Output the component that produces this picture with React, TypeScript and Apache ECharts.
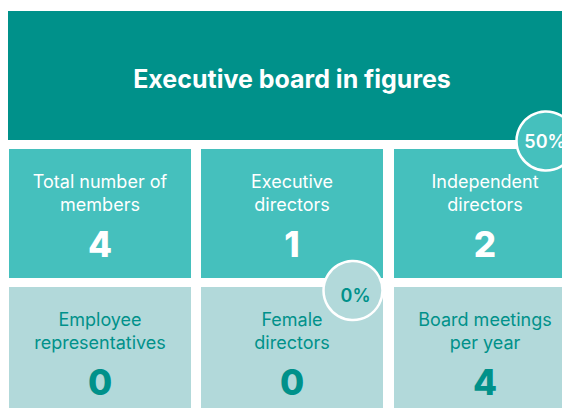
import React, { useEffect, useRef } from "react";
import * as echarts from "echarts";

const TITLE = "Executive board in figures";
const tileLabels = [
  "Total number of\nmembers",
  "Executive\ndirectors",
  "Independent\ndirectors",
  "Employee\nrepresentatives",
  "Female\ndirectors",
  "Board meetings\nper year",
];
const tileValues = [4, 1, 2, 0, 0, 4];
const badgeTiles = [2, 4];
const badgeTexts = ["50%", "0%"];

const COLORS = {
  header: "#00918A",
  row1: "#45C0BD",
  row2: "#B2D9DA",
  row1Text: "#FFFFFF",
  row2Text: "#00918A",
};
const FONT = "Inter, 'Noto Sans', sans-serif";

export default function App() {
  const ref = useRef<HTMLDivElement>(null);
  useEffect(() => {
    if (!ref.current) return;
    const chart = echarts.init(ref.current, null, { renderer: "svg" });
    const tileX = [9, 201, 394];
    const tileY = [149, 287];
    const tileW = 182;
    const tileH = 129;
    const elements: any[] = [];
    elements.push({
      type: "rect",
      shape: { x: 8, y: 11, width: 570, height: 129 },
      style: { fill: COLORS.header },
    });
    elements.push({
      type: "text",
      x: 292,
      y: 79,
      style: {
        text: TITLE,
        fill: "#fff",
        font: `bold 25px ${FONT}`,
        align: "center",
        verticalAlign: "middle",
      },
    });
    tileLabels.forEach((label, i) => {
      const col = i % 3;
      const row = Math.floor(i / 3);
      const x = tileX[col];
      const y = tileY[row];
      const fill = row === 0 ? COLORS.row1 : COLORS.row2;
      const tc = row === 0 ? COLORS.row1Text : COLORS.row2Text;
      const cx = x + tileW / 2;
      elements.push({
        type: "rect",
        shape: { x, y, width: tileW, height: tileH },
        style: { fill },
        z: 1,
      });
      label.split("\n").forEach((line, li) => {
        elements.push({
          type: "text",
          x: cx,
          y: y + 32.5 + li * 23.4,
          z: 2,
          style: {
            text: line,
            fill: tc,
            font: `400 18px ${FONT}`,
            align: "center",
            verticalAlign: "middle",
          },
        });
      });
      elements.push({
        type: "text",
        x: cx,
        y: y + 94.5,
        z: 2,
        style: {
          text: String(tileValues[i]),
          fill: tc,
          font: `800 35px ${FONT}`,
          align: "center",
          verticalAlign: "middle",
        },
      });
    });
    const badgePos = [
      { cx: 546, cy: 141, tx: 545, ty: 141.5 },
      { cx: 353, cy: 290.5, tx: 355.5, ty: 295.5 },
    ];
    badgeTiles.forEach((t, i) => {
      const row = Math.floor(t / 3);
      const fill = row === 0 ? COLORS.row1 : COLORS.row2;
      const tc = row === 0 ? COLORS.row1Text : COLORS.row2Text;
      const p = badgePos[i];
      elements.push({
        type: "circle",
        shape: { cx: p.cx, cy: p.cy, r: 29.5 },
        style: { fill, stroke: "#fff", lineWidth: 2.5 },
        z: 5,
      });
      elements.push({
        type: "text",
        x: p.tx,
        y: p.ty,
        z: 6,
        style: {
          text: badgeTexts[i],
          fill: tc,
          font: `600 18px ${FONT}`,
          align: "center",
          verticalAlign: "middle",
        },
      });
    });
    chart.setOption({
      animation: false,
      backgroundColor: "#fff",
      graphic: { elements },
    });
    return () => chart.dispose();
  }, []);
  return (
    <div
      ref={ref}
      style={{ position: "absolute", left: 0, top: 0, width: 562, height: 408 }}
    />
  );
}
